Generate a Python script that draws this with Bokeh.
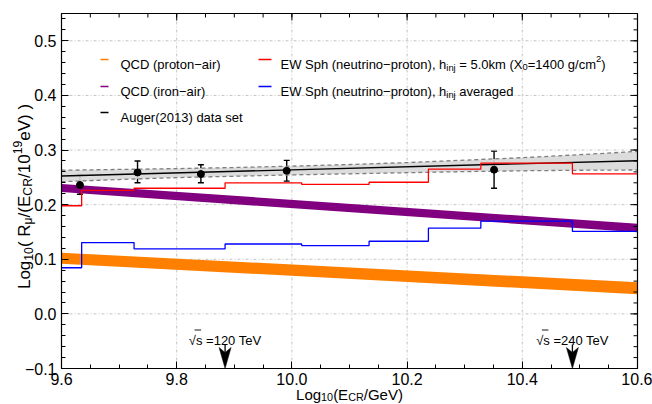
import math
import numpy as np
from bokeh.plotting import figure
from bokeh.models import (FixedTicker, PrintfTickFormatter, Label,
                          BoxAnnotation, Whisker, ColumnDataSource, TeeHead)
from bokeh.embed import file_html
from bokeh.resources import INLINE
from bokeh.core.properties import value

# ---------------- data ----------------
x_edges = [9.6, 9.635, 9.726, 9.884, 10.017, 10.134, 10.237, 10.328, 10.487, 10.6]
red_vals = [0.198, 0.226, 0.230, 0.240, 0.237, 0.241, 0.265, 0.276, 0.2565]
blue_vals = [0.0845, 0.1305, 0.119, 0.128, 0.125, 0.133, 0.157, 0.170, 0.151]

qcd_x = [9.6, 10.6]
proton_lo = [0.092, 0.036]
proton_hi = [0.112, 0.058]
iron_lo = [0.223, 0.1495]
iron_hi = [0.238, 0.165]

fit_x = [9.6, 10.6]
fit_y = [0.2525, 0.2805]
band_x = [9.6, 9.7, 9.8, 9.9, 10.0, 10.1, 10.2, 10.3, 10.4, 10.5, 10.6]
band_lo = [0.242, 0.246, 0.2495, 0.252, 0.2545, 0.2565, 0.2585, 0.2605, 0.262, 0.263, 0.2635]
band_hi = [0.263, 0.2645, 0.266, 0.268, 0.2705, 0.2735, 0.277, 0.2815, 0.286, 0.2915, 0.2975]

auger_x = [9.632, 9.732, 9.842, 9.991, 10.351]
auger_y = [0.236, 0.259, 0.256, 0.262, 0.264]
auger_lo = [0.219, 0.240, 0.240, 0.243, 0.230]
auger_hi = [0.255, 0.280, 0.273, 0.281, 0.298]

arrow_x = [9.884, 10.487]
arrow_labels = ["\u221as =120 TeV", "\u221as =240 TeV"]

x_major = [9.6, 9.8, 10.0, 10.2, 10.4, 10.6]
y_major = [-0.1, 0.0, 0.1, 0.2, 0.3, 0.4, 0.5]
x_lim = (9.6, 10.6)
y_lim = (-0.1, 0.55)

# ---------------- geometry ----------------
FONT = "Liberation Sans"
W_FIG, H_FIG = 652, 404
# plot box inside the canvas (pixels from canvas left / top)
BOX_L, BOX_R, BOX_T, BOX_B = 61, 637, 13, 368
px_x = (x_lim[1] - x_lim[0]) / (BOX_R - BOX_L)
px_y = (y_lim[1] - y_lim[0]) / (BOX_B - BOX_T)
XR = (x_lim[0] - BOX_L * px_x, x_lim[1] + (W_FIG - BOX_R) * px_x)
YR = (y_lim[0] - (H_FIG - BOX_B) * px_y, y_lim[1] + BOX_T * px_y)
FL, FB = 0, H_FIG     # frame (= whole canvas) left / bottom, canvas pixels

p = figure(width=W_FIG, height=H_FIG, x_range=XR, y_range=YR,
           output_backend="svg", toolbar_location=None,
           min_border_left=0, min_border_right=0, min_border_top=0, min_border_bottom=0)
p.background_fill_color = "white"
p.border_fill_color = "white"
p.outline_line_color = None
p.xgrid.visible = False
p.ygrid.visible = False

x_minor = [float(v) for v in np.round(np.arange(9.6, 10.6001, 0.05), 3)]
y_minor = [float(v) for v in np.round(np.arange(-0.1, 0.5501, 0.02), 3)]
xt = FixedTicker(ticks=x_major, minor_ticks=x_minor)
yt = FixedTicker(ticks=y_major, minor_ticks=y_minor)

for ax, t, loc, bnd in ((p.xaxis[0], xt, y_lim[0], x_lim), (p.yaxis[0], yt, x_lim[0], y_lim)):
    ax.fixed_location = loc
    ax.bounds = bnd
    ax.ticker = t
    ax.axis_line_color = "black"
    ax.axis_line_width = 1.2
    ax.major_tick_in = 7
    ax.major_tick_out = 0
    ax.minor_tick_in = 4
    ax.minor_tick_out = 0
    ax.major_tick_line_color = "black"
    ax.minor_tick_line_color = "black"
    ax.major_label_text_font = FONT
    ax.major_label_text_font_size = "16px"
    ax.major_label_text_color = "black"
    ax.formatter = PrintfTickFormatter(format="%.1f")
p.xaxis[0].major_label_standoff = 4
p.yaxis[0].major_label_standoff = 5
p.yaxis[0].major_label_overrides = {-0.1: "\u22120.1"}

# grid lines (dot-dash), only inside the plot box
GRID = dict(line_color="#c4c4c4", line_dash="3 2 1 2", line_width=1)
p.segment(x0=x_major, y0=[y_lim[0]] * len(x_major), x1=x_major, y1=[y_lim[1]] * len(x_major), **GRID)
p.segment(x0=[x_lim[0]] * len(y_major), y0=y_major, x1=[x_lim[1]] * len(y_major), y1=y_major, **GRID)

# ---------------- marks ----------------
p.varea(x=qcd_x, y1=proton_lo, y2=proton_hi, fill_color="#ff8000")
p.varea(x=qcd_x, y1=iron_lo, y2=iron_hi, fill_color="#800080")

p.varea(x=band_x, y1=band_lo, y2=band_hi, fill_color="#d8d8d8", fill_alpha=0.9)
p.line(band_x, band_lo, line_color="#7f7f7f", line_dash="4 3", line_width=1.3)
p.line(band_x, band_hi, line_color="#7f7f7f", line_dash="4 3", line_width=1.3)
p.line(fit_x, fit_y, line_color="black", line_width=1.4)

p.step(x_edges, red_vals + red_vals[-1:], mode="after", line_color="#ff0000", line_width=1.3)
p.step(x_edges, blue_vals + blue_vals[-1:], mode="after", line_color="#0000ff", line_width=1.3)

src = ColumnDataSource(dict(x=auger_x, y=auger_y, lo=auger_lo, hi=auger_hi))
p.add_layout(Whisker(source=src, base="x", lower="lo", upper="hi",
                     line_color="black", line_width=1.4,
                     upper_head=TeeHead(size=6, line_color="black", line_width=1.4),
                     lower_head=TeeHead(size=6, line_color="black", line_width=1.4)))
p.scatter("x", "y", source=src, size=7, color="black")

# frame: top and right edges + mirrored ticks
p.segment(x0=[x_lim[0], x_lim[1]], y0=[y_lim[1], y_lim[0]], x1=[x_lim[1], x_lim[1]],
          y1=[y_lim[1], y_lim[1]], line_color="black", line_width=1.2)
p.segment(x0=x_major, y0=[y_lim[1]] * len(x_major), x1=x_major,
          y1=[y_lim[1] - 7 * px_y] * len(x_major), line_color="black", line_width=1)
p.segment(x0=x_minor, y0=[y_lim[1]] * len(x_minor), x1=x_minor,
          y1=[y_lim[1] - 4 * px_y] * len(x_minor), line_color="black", line_width=1)
p.segment(x0=[x_lim[1]] * len(y_major), y0=y_major, x1=[x_lim[1] - 7 * px_x] * len(y_major),
          y1=y_major, line_color="black", line_width=1)
p.segment(x0=[x_lim[1]] * len(y_minor), y0=y_minor, x1=[x_lim[1] - 4 * px_x] * len(y_minor),
          y1=y_minor, line_color="black", line_width=1)

# arrows (notched head, sized in pixels)
heads_x, heads_y = [], []
for a in arrow_x:
    tip = y_lim[0]
    heads_x.append([a, a + 6 * px_x, a, a - 6 * px_x])
    heads_y.append([tip, tip + 21 * px_y, tip + 16 * px_y, tip + 21 * px_y])
p.patches(heads_x, heads_y, fill_color="black", line_color="black", line_width=0.5)
p.segment(x0=arrow_x, y0=[y_lim[0] + 16 * px_y] * 2, x1=arrow_x, y1=[y_lim[0] + 24 * px_y] * 2,
          line_color="black", line_width=1.3)
p.text(x=arrow_x, y=[y_lim[0]] * 2, text=arrow_labels, y_offset=-28,
       text_align="center", text_baseline="alphabetic",
       text_font=value(FONT), text_font_size="13px", text_color="black")
# overline of the square root
p.segment(x0=[a - 30.5 * px_x for a in arrow_x], y0=[y_lim[0] + 38.5 * px_y] * 2,
          x1=[a - 24 * px_x for a in arrow_x], y1=[y_lim[0] + 38.5 * px_y] * 2,
          line_color="black", line_width=0.9)

# ---------------- rich text helper ----------------
AW = {' ': 278, '!': 278, '(': 333, ')': 333, ',': 278, '-': 333, '.': 278, '/': 278,
      ':': 278, '=': 584, '\u2212': 584, '\u2013': 556, '\u03bc': 576, '\u221a': 549}
for c in "0123456789":
    AW[c] = 556
AW.update(dict(zip("ABCDEFGHIJKLMNOPQRSTUVWXYZ",
                   [667, 667, 722, 722, 667, 611, 778, 722, 278, 500, 667, 556, 833,
                    722, 778, 667, 778, 722, 667, 611, 722, 667, 944, 667, 667, 611])))
AW.update(dict(zip("abcdefghijklmnopqrstuvwxyz",
                   [556, 556, 500, 556, 556, 278, 556, 556, 222, 222, 500, 222, 833,
                    556, 556, 556, 556, 333, 500, 278, 556, 500, 722, 500, 500, 500])))


def tw(s, fs):
    return sum(AW.get(c, 556) for c in s) / 1000.0 * fs


def rich(X, Y, parts, fs, angle=0.0, align="left", color="black"):
    """X, Y: canvas pixel coords of the baseline anchor."""
    scale = 0.72
    total = 0.0
    for t, k in parts:
        total += tw(t, fs if k == "n" else fs * scale)
    pos = 0.0 if align == "left" else -total / 2.0
    bx, by = X - FL, FB - Y
    ca, sa = math.cos(angle), math.sin(angle)
    for t, k in parts:
        f = fs if k == "n" else fs * scale
        shift = 0.0 if k == "n" else (-0.22 * fs if k == "sub" else 0.42 * fs)
        lead = len(t) - len(t.lstrip(" "))
        pos += tw(" " * lead, f)
        core = t.strip(" ")
        if core:
            x = bx + pos * ca - shift * sa
            y = by + pos * sa + shift * ca
            p.add_layout(Label(x=x, y=y, x_units="screen", y_units="screen", text=core,
                               angle=angle, text_font=FONT, text_font_size=f"{f:.1f}px",
                               text_baseline="alphabetic", text_align="left",
                               text_color=color))
        pos += tw(core, f)
        trail = len(t) - len(t.rstrip(" ")) if core else 0
        pos += tw(" " * trail, f)


def swatch(X1, X2, Yc, color):
    p.add_layout(BoxAnnotation(left=X1 - FL, right=X2 - FL,
                               bottom=FB - Yc - 0.8, top=FB - Yc + 0.8,
                               left_units="screen", right_units="screen",
                               top_units="screen", bottom_units="screen",
                               fill_color=color, fill_alpha=1.0, line_color=None))


# axis labels
rich(349, 393.5, [("Log", "n"), ("10", "sub"), ("(E", "n"), ("CR", "sub"), ("/GeV)", "n")], 15,
     align="center")
rich(24, 196, [("Log", "n"), ("10", "sub"), ("( R", "n"), ("\u03bc", "sub"), ("/(E", "n"),
               ("CR", "sub"), ("/10", "n"), ("19", "sup"), ("eV) )", "n")], 17,
     angle=math.pi / 2, align="center")

# legend
LFS = 13
rows = [59, 86, 112]
swatch(100, 108, rows[0], "#ff8000")
rich(120, rows[0] + 4.7, [("QCD (proton\u2212air)", "n")], LFS)
swatch(100, 108, rows[1], "#800080")
rich(120, rows[1] + 4.7, [("QCD (iron\u2212air)", "n")], LFS)
swatch(100, 108, rows[2], "black")
rich(120, rows[2] + 4.7, [("Auger(2013) data set", "n")], LFS)
swatch(258, 271, rows[0], "#ff0000")
rich(280, rows[0] + 4.7, [("EW Sph (neutrino\u2212proton), h", "n"), ("inj", "sub"),
                          (" = 5.0km (X", "n"), ("0", "sub"), ("=1400 g/cm", "n"),
                          ("2", "sup"), (")", "n")], LFS)
swatch(258, 271, rows[1], "#0000ff")
rich(280, rows[1] + 4.7, [("EW Sph (neutrino\u2212proton), h", "n"), ("inj", "sub"),
                          (" averaged", "n")], LFS)

open("out.html", "w").write(file_html(p, INLINE))
